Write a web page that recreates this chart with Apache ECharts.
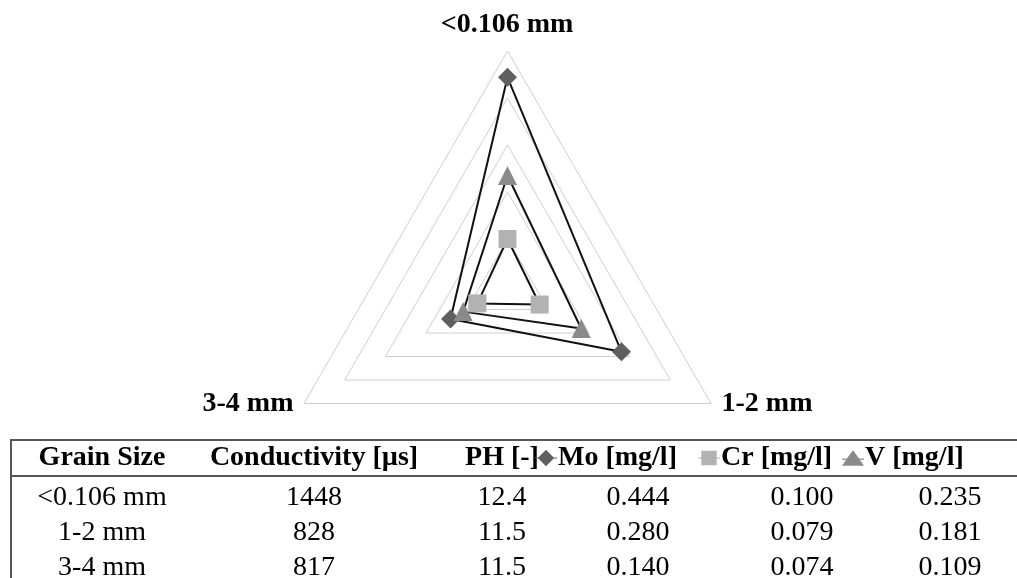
<!DOCTYPE html>
<html>
<head>
<meta charset="utf-8">
<script src="https://cdn.jsdelivr.net/npm/echarts@6/dist/echarts.min.js"></script>
<style>
html,body{margin:0;padding:0;background:#fff;}
#chart{width:1017px;height:578px;}
</style>
</head>
<body>
<div id="chart"></div>
<script>
// ---- data ----
const grainSizes = ['<0.106 mm', '1-2 mm', '3-4 mm'];
const conductivity = ['1448', '828', '817'];
const ph = ['12.4', '11.5', '11.5'];
const mo = [0.444, 0.280, 0.140];
const cr = [0.100, 0.079, 0.074];
const vv = [0.235, 0.181, 0.109];
const seriesNames = ['Mo [mg/l]', 'Cr [mg/l]', 'V [mg/l]'];
const headers = ['Grain Size', 'Conductivity [µs]', 'PH [-]'];
const radarMax = 0.5;

// radar goes counter-clockwise: top, bottom-left, bottom-right
const radarOrder = [0, 2, 1];
const reorder = arr => radarOrder.map(i => arr[i]);

const FONT = "'Liberation Serif', 'Times New Roman', serif";
const FS = 28;

const chart = echarts.init(document.getElementById('chart'));

const icons = {
  mo: 'path://M0,8.5H3L10,1.5L17,8.5H20V9.5H17L10,16.5L3,9.5H0Z',
  cr: 'path://M0,8.5H3V2.5H17V8.5H20V9.5H17V15.5H3V9.5H0Z',
  v:  'path://M0,9.5H4.5L10,2L15.5,9.5H20V10.5H16.2L20,16H0L3.8,10.5H0Z'
};

// table graphic
const colX = [102, 314, 502, 638, 802, 950];
const rowY = [498, 533, 568];
const graphics = [];
const lineStyle = {stroke: '#555', lineWidth: 2};
graphics.push({type: 'line', shape: {x1: 11, y1: 440, x2: 1017, y2: 440}, style: lineStyle});
graphics.push({type: 'line', shape: {x1: 11, y1: 476, x2: 1017, y2: 476}, style: lineStyle});
graphics.push({type: 'line', shape: {x1: 11, y1: 439, x2: 11, y2: 578}, style: lineStyle});
headers.forEach((h, i) => {
  graphics.push({type: 'text', x: colX[i], y: 458, style: {text: h, fill: '#000', font: 'bold ' + FS + 'px ' + FONT, textAlign: 'center', textVerticalAlign: 'middle'}});
});
const fmt = x => x.toFixed(3);
grainSizes.forEach((g, r) => {
  const cells = [g, conductivity[r], ph[r], fmt(mo[r]), fmt(cr[r]), fmt(vv[r])];
  cells.forEach((c, i) => {
    graphics.push({type: 'text', x: colX[i], y: rowY[r], style: {text: c, fill: '#000', font: FS + 'px ' + FONT, textAlign: 'center', textVerticalAlign: 'middle'}});
  });
});
// radar axis names
const namePos = [
  {x: 507, y: 25},
  {x: 767, y: 404},
  {x: 248, y: 404}
];
grainSizes.forEach((g, i) => {
  graphics.push({type: 'text', x: namePos[i].x, y: namePos[i].y, style: {text: g, fill: '#000', font: 'bold ' + FS + 'px ' + FONT, textAlign: 'center', textVerticalAlign: 'middle'}});
});

const legendBase = {
  orient: 'horizontal', padding: 0, top: 444, itemWidth: 22, itemHeight: 18, itemGap: 0,
  selectedMode: false,
  textStyle: {fontFamily: FONT, fontWeight: 'bold', fontSize: FS, color: '#000', padding: [0, 0, 0, -4]}
};

chart.setOption({
  animation: false,
  backgroundColor: '#fff',
  legend: [
    Object.assign({}, legendBase, {left: 535, data: [{name: seriesNames[0], icon: icons.mo}]}),
    Object.assign({}, legendBase, {left: 698, data: [{name: seriesNames[1], icon: icons.cr}]}),
    Object.assign({}, legendBase, {left: 842, data: [{name: seriesNames[2], icon: icons.v}]})
  ],
  radar: {
    center: [507.5, 286],
    radius: 235,
    shape: 'polygon',
    splitNumber: 5,
    startAngle: 90,
    indicator: reorder(grainSizes).map(n => ({name: n, min: 0, max: radarMax})),
    axisName: {show: false},
    axisLine: {show: false},
    axisTick: {show: false},
    axisLabel: {show: false},
    splitArea: {show: false},
    splitLine: {lineStyle: {color: '#cfcfcf', width: 1}}
  },
  graphic: graphics,
  series: [{
    type: 'radar',
    data: [
      {name: seriesNames[0], value: reorder(mo), symbol: 'diamond', symbolSize: 19,
       itemStyle: {color: '#5f5f5f'}, lineStyle: {color: '#111', width: 2}},
      {name: seriesNames[1], value: reorder(cr), symbol: 'rect', symbolSize: 18,
       itemStyle: {color: '#b2b2b2'}, lineStyle: {color: '#111', width: 2}},
      {name: seriesNames[2], value: reorder(vv), symbol: 'triangle', symbolSize: 19,
       itemStyle: {color: '#8a8a8a'}, lineStyle: {color: '#111', width: 2}}
    ]
  }]
});
</script>
</body>
</html>
